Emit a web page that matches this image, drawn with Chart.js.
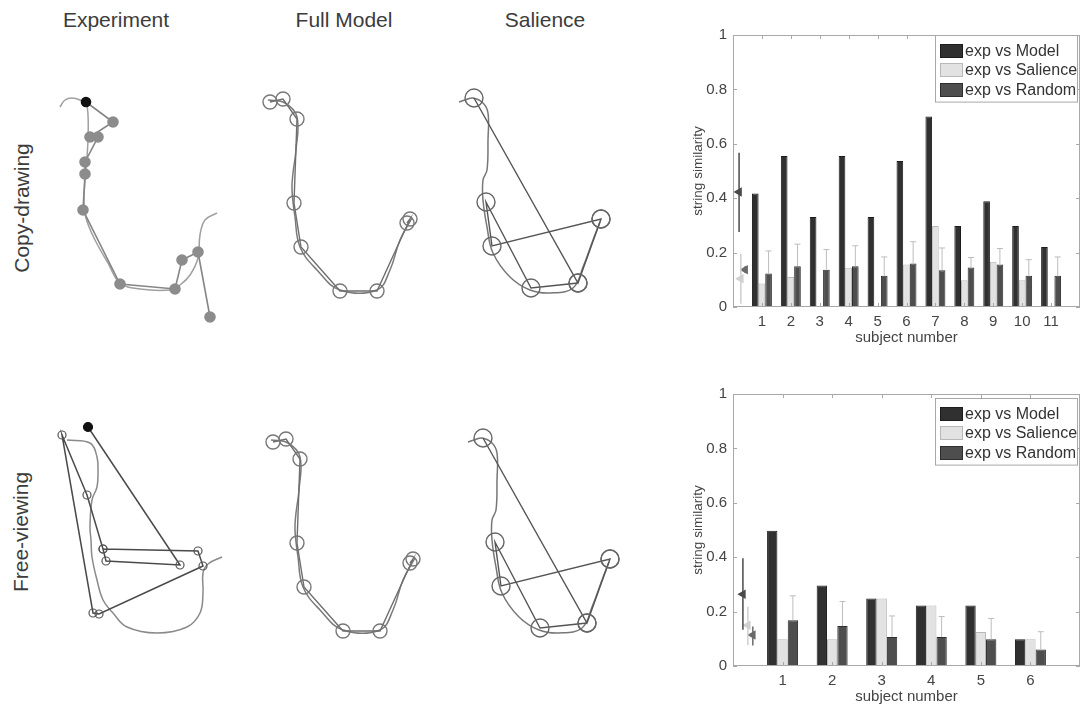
<!DOCTYPE html>
<html>
<head>
<meta charset="utf-8">
<script src="https://cdn.jsdelivr.net/npm/chart.js@4.4.0/dist/chart.umd.min.js"></script>
<style>
  html, body { margin: 0; padding: 0; background: #fff; }
  #page { position: relative; width: 1081px; height: 706px; overflow: hidden;
          font-family: "Liberation Sans", Arial, Helvetica, sans-serif; color: #3c3c3c; }
  .head { position: absolute; top: 8px; font-size: 21px; line-height: 24px; transform: translateX(-50%); white-space: nowrap; }
  .rowlab { position: absolute; font-size: 21px; line-height: 24px; white-space: nowrap; transform: translate(-50%, -50%) rotate(-90deg); }
  canvas { position: absolute; }
</style>
</head>
<body>
<div id="page">
  <div class="head" style="left:116px">Experiment</div>
  <div class="head" style="left:344px">Full Model</div>
  <div class="head" style="left:545px">Salience</div>
  <div class="rowlab" style="left:22px; top:208px">Copy-drawing</div>
  <div class="rowlab" style="left:21px; top:532px">Free-viewing</div>

  <canvas id="expCopy" width="200" height="260" style="left:40px; top:80px"></canvas>
  <canvas id="expFree" width="200" height="250" style="left:40px; top:410px"></canvas>
  <canvas id="modelCopy" width="190" height="240" style="left:250px; top:80px"></canvas>
  <canvas id="modelFree" width="190" height="240" style="left:253px; top:420px"></canvas>
  <canvas id="salCopy" width="190" height="240" style="left:445px; top:80px"></canvas>
  <canvas id="salFree" width="190" height="240" style="left:454px; top:420px"></canvas>

  <canvas id="copyBars" width="391" height="332" style="left:690px; top:15px"></canvas>
  <canvas id="freeBars" width="391" height="332" style="left:690px; top:374px"></canvas>
</div>
<script>
// ---- bar chart values (string similarity per subject) ----
const seriesLabels = ['exp vs Model', 'exp vs Salience', 'exp vs Random'];

const copySubjects = [1, 2, 3, 4, 5, 6, 7, 8, 9, 10, 11];
const copyModel    = [0.417, 0.555, 0.331, 0.555, 0.331, 0.537, 0.700, 0.298, 0.389, 0.298, 0.221];
const copySalience = [0.086, 0.110, null, 0.144, null, 0.156, 0.298, 0.098, 0.166, 0.098, null];
const copyRandom   = [0.123, 0.150, 0.137, 0.150, 0.115, 0.160, 0.135, 0.145, 0.156, 0.115, 0.115];
const copyRandomHi = [0.206, 0.231, 0.211, 0.225, 0.184, 0.240, 0.217, 0.182, 0.215, 0.174, 0.184];
// mean over subjects, drawn at the left of the axis
const copyMeanX  = [0.21, 0.27, 0.42];
const copyMean   = [0.423, 0.104, 0.137];
const copyMeanLo = [0.276, 0.012, 0.125];
const copyMeanHi = [0.567, 0.196, 0.150];

const freeSubjects = [1, 2, 3, 4, 5, 6];
const freeModel    = [0.497, 0.296, 0.248, 0.222, 0.222, 0.098];
const freeSalience = [0.098, 0.098, 0.248, 0.222, 0.125, 0.098];
const freeRandom   = [0.168, 0.147, 0.107, 0.107, 0.098, 0.061];
const freeRandomHi = [0.258, 0.237, 0.184, 0.182, 0.175, 0.126];
const freeMeanX  = [0.20, 0.30, 0.40];
const freeMean   = [0.264, 0.150, 0.114];
const freeMeanLo = [0.133, 0.077, 0.075];
const freeMeanHi = [0.396, 0.218, 0.145];

const yTicks = [0, 0.2, 0.4, 0.6, 0.8, 1];

// ---- scanpaths and drawing traces (panel units) ----
const expCopyTrace = [[20,27],[25,20],[32,18],[40,20],[46,24],[48,35],[48,60],[46,90],[44,120],[46,138],[55,160],[68,183],[80,203],[100,209],[130,210],[140,205],[150,195],[158,178],[160,155],[165,140],[177,133]];
const expCopyFix   = [[46,22],[73,42],[50,57],[58,57],[45,82],[45,94],[43,130],[80,204],[135,209],[142,180],[158,172],[170,237]];

const expFreeTrace = [[27,30],[50,33],[57,47],[58,63],[57,77],[52,90],[50,117],[51,130],[52,147],[57,170],[63,190],[73,203],[87,217],[117,223],[147,217],[160,203],[163,183],[163,163],[168,154],[182,147]];
const expFreeFix   = [[48,17],[140,155],[66,151],[63,139],[158,141],[163,156],[59,204],[53,203],[22,25],[47,85],[63,139]];

const modelTrace = [[18,20],[35,23],[47,37],[46,70],[43,93],[42,110],[45,137],[50,167],[67,190],[90,210],[127,210],[140,190],[150,160],[162,138]];
const modelFix   = [[20,22],[33,19],[47,39],[44,123],[51,167],[90,211],[127,211],[160,139],[157,143]];

const salTrace = [[14,22],[20,20],[28,18],[38,23],[43,33],[43,60],[42,90],[38,100],[38,120],[42,147],[48,173],[65,197],[85,210],[105,213],[128,208],[138,187],[148,160],[155,142]];
const salFix   = [[29,18],[133,203],[156,139],[47,166],[41,122],[86,208],[133,203],[156,139]];

Chart.defaults.font.family = '"Liberation Sans", Arial, Helvetica, sans-serif';
Chart.defaults.color = '#444';

function toXY(pairs) {
  return pairs.map(p => ({ x: p[0], y: p[1] }));
}

function pathPanel(id, layers) {
  const cv = document.getElementById(id);
  return new Chart(cv, {
    type: 'scatter',
    data: { datasets: layers },
    options: {
      responsive: false,
      animation: false,
      events: [],
      layout: { padding: 0, autoPadding: false },
      plugins: { legend: { display: false }, tooltip: { enabled: false } },
      scales: {
        x: { type: 'linear', min: 0, max: cv.width, display: false },
        y: { type: 'linear', min: 0, max: cv.height, reverse: true, display: false }
      }
    }
  });
}

function trace(pairs, color) {
  return { data: toXY(pairs), showLine: true, tension: 0.4, borderColor: color, borderWidth: 1.5, pointRadius: 0 };
}

// Experiment, copy-drawing: filled grey fixations, first one black
pathPanel('expCopy', [
  { data: toXY(expCopyFix), showLine: true, borderColor: '#858585', borderWidth: 1.6,
    pointRadius: ctx => ctx.dataIndex === 0 ? 4.5 : 5,
    pointBackgroundColor: ctx => ctx.dataIndex === 0 ? '#111' : '#8c8c8c',
    pointBorderColor: ctx => ctx.dataIndex === 0 ? '#111' : '#8c8c8c' },
  trace(expCopyTrace, '#a0a0a0')
]);

// Experiment, free-viewing: open circles, first one black
pathPanel('expFree', [
  { data: toXY(expFreeFix), showLine: true, borderColor: '#4a4a4a', borderWidth: 1.5,
    pointRadius: ctx => ctx.dataIndex === 0 ? 4.5 : 4,
    pointBackgroundColor: ctx => ctx.dataIndex === 0 ? '#111' : 'rgba(255,255,255,0)',
    pointBorderColor: ctx => ctx.dataIndex === 0 ? '#111' : '#555', pointBorderWidth: 1.2 },
  trace(expFreeTrace, '#8a8a8a')
]);

function modelLayers() {
  return [
    { data: toXY(modelFix), showLine: true, borderColor: '#6e6e6e', borderWidth: 1.4,
      pointRadius: 7, pointBackgroundColor: 'rgba(255,255,255,0)', pointBorderColor: '#777', pointBorderWidth: 1.4 },
    trace(modelTrace, '#7a7a7a')
  ];
}
function salLayers() {
  return [
    { data: toXY(salFix), showLine: true, borderColor: '#555', borderWidth: 1.4,
      pointRadius: 9, pointBackgroundColor: 'rgba(255,255,255,0)', pointBorderColor: '#666', pointBorderWidth: 1.4 },
    trace(salTrace, '#777')
  ];
}
pathPanel('modelCopy', modelLayers());
pathPanel('modelFree', modelLayers());
pathPanel('salCopy', salLayers());
pathPanel('salFree', salLayers());

// ---- bar charts ----
const axesBox = {
  id: 'axesBox',
  afterDatasetsDraw(chart) {
    const { ctx, chartArea: a, scales } = chart;
    ctx.save();
    ctx.strokeStyle = '#a8a8a8';
    ctx.lineWidth = 1;
    ctx.strokeRect(a.left + 0.5, a.top + 0.5, a.right - a.left - 1, a.bottom - a.top - 1);
    ctx.beginPath();
    scales.x.ticks.forEach(t => {
      if (t.label === '') return;
      const px = Math.round(scales.x.getPixelForValue(t.value)) + 0.5;
      ctx.moveTo(px, a.bottom); ctx.lineTo(px, a.bottom - 4);
      ctx.moveTo(px, a.top); ctx.lineTo(px, a.top + 4);
    });
    scales.y.ticks.forEach(t => {
      const py = Math.round(scales.y.getPixelForValue(t.value)) + 0.5;
      ctx.moveTo(a.left, py); ctx.lineTo(a.left + 4, py);
      ctx.moveTo(a.right, py); ctx.lineTo(a.right - 4, py);
    });
    ctx.stroke();
    ctx.restore();
  }
};

const boxLegend = {
  id: 'boxLegend',
  afterDraw(chart, args, opts) {
    const { ctx, chartArea: a } = chart;
    const items = chart.data.datasets.filter(d => d.type === 'bar');
    const w = 145, first = 16, rowH = 19.3;
    const h = first + (items.length - 1) * rowH + 12;
    const x0 = a.right - w, y0 = a.top + opts.top;
    ctx.save();
    ctx.fillStyle = '#fff';
    ctx.fillRect(x0, y0, w - 2, h);
    ctx.strokeStyle = '#a8a8a8';
    ctx.lineWidth = 1;
    ctx.strokeRect(x0 + 0.5, y0 + 0.5, w - 3, h);
    ctx.font = '16px "Liberation Sans", Arial, sans-serif';
    ctx.textBaseline = 'middle';
    items.forEach((d, i) => {
      const cy = Math.round(y0 + first + i * rowH);
      ctx.fillStyle = d.backgroundColor;
      ctx.fillRect(x0 + 5, cy - 7, 23, 14);
      ctx.strokeStyle = d.borderColor;
      ctx.strokeRect(x0 + 5.5, cy - 6.5, 22, 13);
      ctx.fillStyle = '#333';
      ctx.fillText(d.label, x0 + 30, cy + 1);
    });
    ctx.restore();
  }
};

const barColors = ['#303030', '#e2e2e2', '#4e4e4e'];
const barEdges  = ['#1c1c1c', '#b8b8b8', '#2e2e2e'];
const meanColors = ['#4a4a4a', '#cfcfcf', '#6a6a6a'];

function xy(xs, ys) {
  return xs.map((x, i) => ({ x: x, y: ys[i] }));
}

function barChart(id, subjects, series, randomHi, meanX, mean, meanLo, meanHi, xMax, groupWidth, legendTop) {
  const datasets = series.map((vals, k) => ({
    type: 'bar', label: seriesLabels[k], data: xy(subjects, vals),
    backgroundColor: barColors[k], borderColor: barEdges[k], borderWidth: 1,
    categoryPercentage: groupWidth, barPercentage: 1, order: 2
  }));
  // upper error bars on the random bars
  const errPts = [];
  subjects.forEach((s, i) => {
    const x = s + groupWidth / 3;
    errPts.push({ x: x, y: series[2][i] }, { x: x, y: randomHi[i] }, { x: x, y: null });
  });
  datasets.push({
    type: 'line', label: 'err', data: errPts, borderColor: '#bdbdbd', borderWidth: 1,
    spanGaps: false, pointStyle: 'line', pointBorderColor: '#bdbdbd', pointBorderWidth: 1,
    pointRadius: ctx => ctx.dataIndex % 3 === 1 ? 3 : 0, order: 1
  });
  // mean +/- spread markers at the left
  meanX.forEach((x, k) => {
    datasets.push({
      type: 'line', label: 'mean' + k,
      data: [{ x: x, y: meanLo[k] }, { x: x, y: mean[k] }, { x: x, y: meanHi[k] }],
      borderColor: meanColors[k], borderWidth: 1.5,
      pointStyle: 'triangle', rotation: -90,
      pointRadius: ctx => ctx.dataIndex === 1 ? 4 : 0,
      pointBackgroundColor: meanColors[k], pointBorderColor: meanColors[k], order: 0
    });
  });

  return new Chart(document.getElementById(id), {
    type: 'bar',
    data: { datasets: datasets },
    plugins: [axesBox, boxLegend],
    options: {
      responsive: false,
      animation: false,
      events: [],
      layout: { padding: { top: 20, right: 1, left: 0, bottom: 0 }, autoPadding: false },
      plugins: {
        legend: { display: false },
        tooltip: { enabled: false },
        boxLegend: { top: legendTop }
      },
      scales: {
        x: {
          type: 'linear', min: 0, max: xMax, offset: false,
          grid: { display: false, drawTicks: false }, border: { display: false },
          ticks: {
            stepSize: 1, autoSkip: false, maxRotation: 0, padding: 6, color: '#444',
            font: { size: 15 },
            callback: v => (v >= 1 && v < xMax) ? String(v) : ''
          },
          title: { display: true, text: 'subject number', color: '#444', font: { size: 15 }, padding: { top: 0, bottom: 0 } },
          afterFit: s => { s.height = 40; s.paddingLeft = 0; s.paddingRight = 0; }
        },
        y: {
          min: 0, max: 1,
          grid: { display: false, drawTicks: false }, border: { display: false },
          afterBuildTicks: s => { s.ticks = yTicks.map(v => ({ value: v })); },
          ticks: {
            padding: 6, color: '#444', font: { size: 15 },
            callback: v => String(+v.toFixed(1))
          },
          title: { display: true, text: 'string similarity', color: '#444', font: { size: 13.5 }, padding: 0 },
          afterFit: s => { s.width = 43; s.paddingTop = 0; s.paddingBottom = 0; }
        }
      }
    }
  });
}

barChart('copyBars', copySubjects, [copyModel, copySalience, copyRandom], copyRandomHi,
         copyMeanX, copyMean, copyMeanLo, copyMeanHi, 12, 0.69, 0);
barChart('freeBars', freeSubjects, [freeModel, freeSalience, freeRandom], freeRandomHi,
         freeMeanX, freeMean, freeMeanLo, freeMeanHi, 7, 0.625, 4);
</script>
</body>
</html>
